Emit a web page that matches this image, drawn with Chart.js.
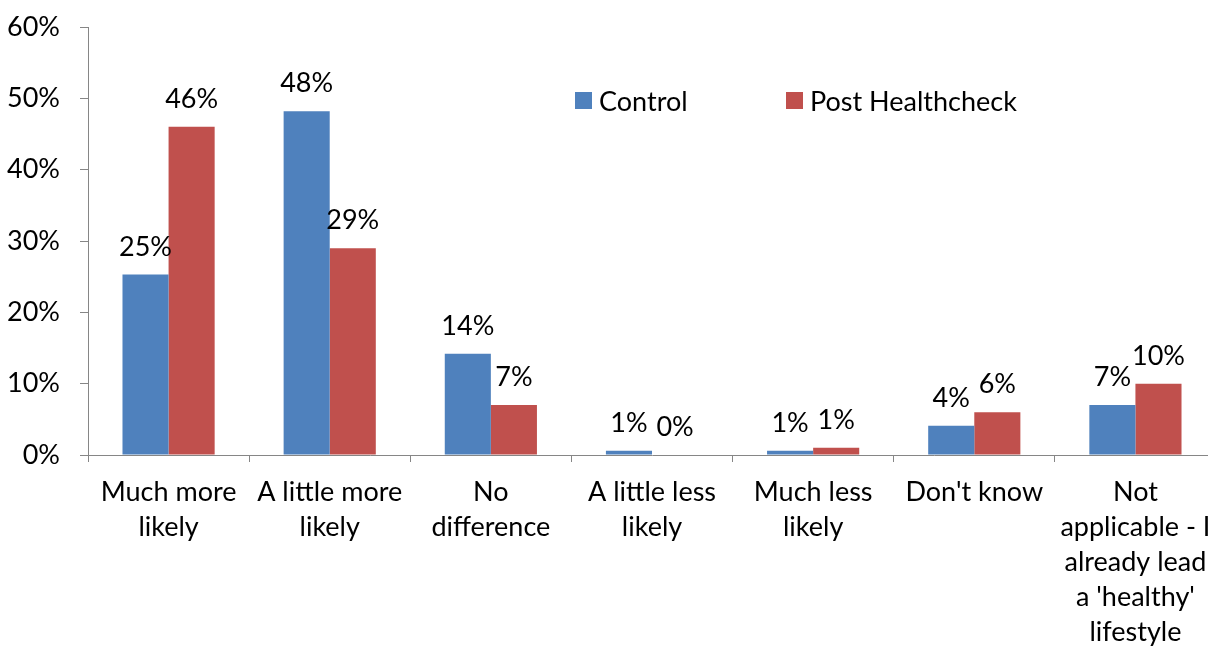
<!DOCTYPE html>
<html>
<head>
<meta charset="utf-8">
<script src="https://cdn.jsdelivr.net/npm/chart.js@4.4.1/dist/chart.umd.min.js"></script>
<style>
  html, body { margin: 0; padding: 0; background: #fff; overflow: hidden; }
  #wrap { width: 1240px; height: 649px; }
</style>
</head>
<body>
<div id="wrap"><canvas id="chart"></canvas></div>
<script>
const categories = [
    ['Much more', 'likely'],
    ['A little more', 'likely'],
    ['No', 'difference'],
    ['A little less', 'likely'],
    ['Much less', 'likely'],
    ["Don't know"],
    ['Not', 'applicable - I', 'already lead', "a 'healthy'", 'lifestyle']
];
const controlValues = [25.3, 48.2, 14.2, 0.6, 0.6, 4.1, 7.0];
const postValues = [46.0, 29.0, 7.0, 0.0, 1.0, 6.0, 10.0];
const yTicks = [0, 10, 20, 30, 40, 50, 60];

const FONT = 'Lato';
const FSIZE = 27;
const axisGrey = '#868686';

// value labels above each bar
const barLabels = {
    id: 'barLabels',
    afterDatasetsDraw(chart) {
        const ctx = chart.ctx;
        ctx.save();
        ctx.font = FSIZE + 'px ' + FONT;
        ctx.fillStyle = '#000';
        ctx.textAlign = 'center';
        ctx.textBaseline = 'alphabetic';
        chart.data.datasets.forEach((ds, i) => {
            chart.getDatasetMeta(i).data.forEach((bar, j) => {
                ctx.fillText(Math.round(ds.data[j]) + '%', bar.x, bar.y - 19);
            });
        });
        ctx.restore();
    }
};

// legend drawn inside the plot, as in the original
const innerLegend = {
    id: 'innerLegend',
    afterDraw(chart) {
        const ctx = chart.ctx;
        const spots = [575, 786];
        const y = 101;
        ctx.save();
        ctx.font = FSIZE + 'px ' + FONT;
        ctx.textBaseline = 'middle';
        ctx.textAlign = 'left';
        chart.data.datasets.forEach((ds, i) => {
            ctx.fillStyle = ds.backgroundColor;
            ctx.fillRect(spots[i], y - 9, 17, 17);
            ctx.fillStyle = '#000';
            ctx.fillText(ds.label, spots[i] + 24, y + 1);
        });
        ctx.restore();
    }
};

new Chart(document.getElementById('chart'), {
    type: 'bar',
    data: {
        labels: categories,
        datasets: [
            { label: 'Control', data: controlValues, backgroundColor: '#4F81BD' },
            { label: 'Post Healthcheck', data: postValues, backgroundColor: '#C0504D' }
        ]
    },
    options: {
        responsive: true,
        maintainAspectRatio: false,
        animation: false,
        categoryPercentage: 0.572,
        barPercentage: 1,
        layout: { padding: { top: 27, right: 24, left: 0, bottom: 0 } },
        plugins: {
            legend: { display: false },
            tooltip: { enabled: false }
        },
        scales: {
            x: {
                grid: { drawOnChartArea: false, tickLength: 7, color: axisGrey, offset: true },
                border: { color: axisGrey },
                ticks: {
                    color: '#000',
                    font: { family: FONT, size: FSIZE, lineHeight: '35px' },
                    padding: 13,
                    maxRotation: 0,
                    autoSkip: false
                },
                afterFit(scale) { scale.height = 194; }
            },
            y: {
                min: 0,
                max: 60,
                afterBuildTicks(scale) { scale.ticks = yTicks.map(v => ({ value: v })); },
                grid: { drawOnChartArea: false, tickLength: 8, color: axisGrey },
                border: { color: axisGrey },
                ticks: {
                    color: '#000',
                    font: { family: FONT, size: FSIZE },
                    padding: 20,
                    callback: v => v + '%'
                },
                afterFit(scale) {
                    scale.width = 88;
                    scale.paddingTop = 0;
                    scale.paddingBottom = 0;
                }
            }
        }
    },
    plugins: [barLabels, innerLegend]
});
</script>
</body>
</html>
